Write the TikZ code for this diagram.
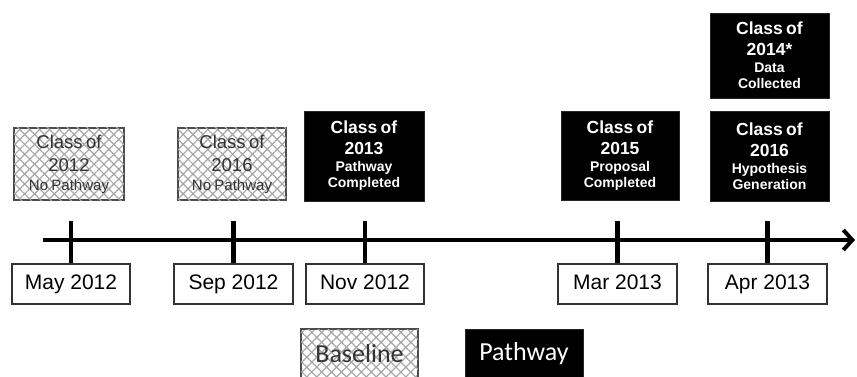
\documentclass[tikz,border=0pt]{standalone}
\usepackage{fontspec}
\setmainfont{Liberation Sans}
\newfontfamily\legendfont{Carlito}
\usetikzlibrary{patterns.meta,arrows.meta}
\begin{document}
\begin{tikzpicture}[x=1pt,y=-1pt,
  hatchbox/.style={draw=black!70, line width=1.2pt,
    pattern={Lines[angle=45,distance=7pt,line width=1.2pt]}, pattern color=black!35,
    postaction={pattern={Lines[angle=-45,distance=7pt,line width=1.2pt]}, pattern color=black!35},
    text=black!80, inner sep=0pt, align=center},
  blackbox/.style={fill=black, draw=black!85, line width=0.8pt, text=white, inner sep=0pt, align=center},
  datebox/.style={draw=black!80, line width=1.2pt, fill=white, inner sep=0pt, minimum height=40pt,
    text height=15pt, text depth=4pt, font=\fontsize{21}{24}\selectfont},
  tickline/.style={line width=4.2pt},
  axisline/.style={line width=4.5pt, -{Straight Barb[length=9pt,width=20pt,line width=4pt]}},
]
\clip (0,0) rectangle (857,377);
\fill[white] (0,0) rectangle (857,377);
\newcommand{\bigtxt}{\fontsize{18.5}{18}\selectfont}
\newcommand{\smltxt}{\fontsize{15}{19}\selectfont}
\newcommand{\bigb}{\bfseries\fontsize{17.5}{21}\selectfont}
\newcommand{\smlb}{\bfseries\fontsize{14}{16}\selectfont}
% timeline
\coordinate (t0) at (43,240);
\coordinate (t1) at (855,240);
\draw[axisline] (t0) -- (t1);
% class boxes
\node[hatchbox, text width=110pt, minimum height=72pt] (h1) at (69,164)
  {\vspace*{5pt}{\bigtxt Class of\par 2012\par}{\smltxt No Pathway\par}};
\node[hatchbox, text width=108pt, minimum height=72pt] (h2) at (232,164)
  {\vspace*{5pt}{\bigtxt Class of\par 2016\par}{\smltxt No Pathway\par}};
\node[blackbox, text width=120pt, minimum height=90pt] (b3) at (364,156)
  {{\bigb Class of\par 2013\par}\vspace{1pt}{\smlb Pathway\par Completed\par}};
\node[blackbox, text width=118pt, minimum height=89pt] (b4) at (620,155.5)
  {{\bigb Class of\par 2015\par}\vspace{1pt}{\smlb Proposal\par Completed\par}};
\node[blackbox, text width=119pt, minimum height=90pt] (b5) at (769.5,156)
  {{\bigb Class of\par 2016\par}\vspace{1pt}{\smlb Hypothesis\par Generation\par}};
\node[blackbox, text width=119pt, minimum height=85pt] (b6) at (769.5,55.5)
  {{\bigb Class of\par 2014*\par}\vspace{1pt}{\smlb Data\par Collected\par}};
% date boxes
\node[datebox, minimum width=118pt] (d1) at (71,284) {May 2012};
\node[datebox, minimum width=119pt] (d2) at (233.5,284) {Sep 2012};
\node[datebox, minimum width=118pt] (d3) at (365,284) {Nov 2012};
\node[datebox, minimum width=119pt] (d4) at (617.5,284) {Mar 2013};
\node[datebox, minimum width=119pt] (d5) at (767.5,284) {Apr 2013};
% ticks
\foreach \d in {d1,d2,d3,d4,d5}{
  \draw[tickline] (\d.north) -- ++(0,-42);
}
% legend
\node[hatchbox, minimum width=117pt, minimum height=50pt, font=\legendfont\fontsize{26}{30}\selectfont] (lb) at (359.5,354) {Baseline};
\node[blackbox, minimum width=118pt, minimum height=50pt, font=\legendfont\fontsize{26}{30}\selectfont] (lp) at (524,354) {Pathway};
\end{tikzpicture}
\end{document}
